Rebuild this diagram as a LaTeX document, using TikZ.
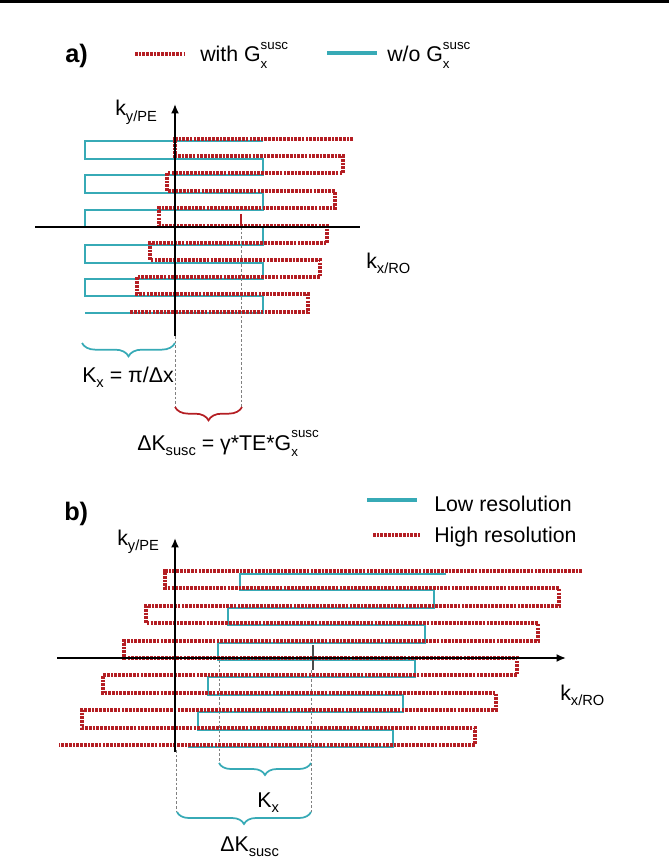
\documentclass[tikz,border=0pt]{standalone}
\usepackage{fontspec}
\setmainfont{Liberation Sans}
\usetikzlibrary{arrows.meta,decorations.pathreplacing}
\definecolor{mriteal}{RGB}{55,170,182}
\definecolor{mrired}{RGB}{180,30,35}
\newcommand{\lowidx}[1]{\raisebox{-0.45ex}{\fontsize{11}{11}\selectfont #1}}
\newcommand{\gsusc}{G\rlap{\raisebox{-0.55ex}{\fontsize{10}{10}\selectfont x}}\raisebox{1.15ex}{\fontsize{10}{10}\selectfont susc}}
\tikzset{
  trajcyan/.style={
    draw=mriteal,
    line width=1.6pt
  },
  trajred/.style={
    draw=mrired,
    line width=2.6pt,
    dash pattern=on 2pt off 0.8pt
  },
  axisline/.style={
    line width=1.5pt,
    black
  },
  axisarrow/.style={
    axisline,
    -{Latex[length=7pt,width=6pt]}
  },
  guide/.style={
    gray,
    line width=0.5pt,
    dash pattern=on 2pt off 1.5pt
  },
  bracecyan/.style={
    draw=mriteal,
    line width=1.3pt,
    decorate,
    decoration={brace, mirror, amplitude=#1}
  },
  bracered/.style={
    draw=mrired,
    line width=1.3pt,
    decorate,
    decoration={brace, mirror, amplitude=#1}
  },
  lbl/.style={
    font=\fontsize{16}{19}\selectfont,
    inner sep=0pt,
    anchor=base west
  },
  tag/.style={
    lbl,
    font=\fontsize{19}{22}\selectfont\bfseries
  }
}

\begin{document}
\begin{tikzpicture}[x=0.75pt, y=-0.75pt]
\useasboundingbox (0,0) rectangle (669,859);
\fill[black] (0,0) rectangle (669,3);

% part a
\node[tag] (taga) at (65,63) {a)};
\draw[trajred, line width=3pt] (135,54) -- (185,54);
\node[lbl] (witha) at (200,62) {with \gsusc};
\draw[trajcyan, line width=2.4pt] (327,53) -- (377,53);
\node[lbl] (woa) at (387,62) {w/o \gsusc};

\draw[guide] (175,336) -- (175,407);
\draw[guide] (241,227) -- (241,407);

\draw[trajcyan] (263,141) -- (85,141) -- (85,159) -- (263,159) -- (263,175) -- (85,175)
  -- (85,193) -- (263,193) -- (263,210) -- (85,210) -- (85,227) -- (263,227) -- (263,245)
  -- (85,245) -- (85,263) -- (263,263) -- (263,279) -- (85,279) -- (85,296) -- (263,296)
  -- (263,313) -- (85,313);
\draw[trajred] (353,139) -- (175,139) -- (175,156) -- (343,156) -- (343,173) -- (167,173)
  -- (167,191) -- (335,191) -- (335,208) -- (159,208) -- (159,226) -- (327,226) -- (327,243)
  -- (150,243) -- (150,260) -- (320,260) -- (320,277) -- (137,277) -- (137,294) -- (308,294)
  -- (308,312) -- (130,312);
\draw[mrired, line width=1pt] (241,214) -- (241,227);

\draw[axisline] (35,227) -- (360,227);
\draw[axisarrow] (175,336) -- (175,104);
\node[lbl] (kya) at (115,116) {k\lowidx{y/PE}};
\node[lbl] (kxa) at (366,268) {k\lowidx{x/RO}};

\draw[bracecyan=10pt] (82,343) -- (175,343);
\node[lbl] (kxdef) at (82,382) {K\lowidx{x} = π/Δx};
\draw[bracered=10pt] (175,407) -- (242,407);
\node[lbl] (dkdef) at (137,450) {ΔK\lowidx{susc} = γ*TE*\gsusc};

% part b
\node[tag] (tagb) at (64,520) {b)};
\draw[trajcyan, line width=2.4pt] (367,500) -- (417,500);
\node[lbl] (lowres) at (434,511) {Low resolution};
\draw[trajred, line width=3pt] (373,535) -- (421,535);
\node[lbl] (highres) at (434,542) {High resolution};

\draw[guide] (176,750) -- (176,812);
\draw[guide] (219,660) -- (219,763);
\draw[guide] (311,670) -- (311,812);

\draw[trajcyan] (446,574) -- (240,574) -- (240,590) -- (434,590) -- (434,608) -- (228,608)
  -- (228,625) -- (425,625) -- (425,643) -- (218,643) -- (218,660) -- (415,660) -- (415,677)
  -- (208,677) -- (208,695) -- (403,695) -- (403,712) -- (198,712) -- (198,730) -- (393,730)
  -- (393,747) -- (188,747);
\draw[trajred] (582,571) -- (165,571) -- (165,588) -- (559,588) -- (559,606) -- (146,606)
  -- (146,623) -- (538,623) -- (538,641) -- (124,641) -- (124,658) -- (517,658) -- (517,675)
  -- (103,675) -- (103,693) -- (496,693) -- (496,710) -- (82,710) -- (82,728) -- (475,728)
  -- (475,745) -- (59,745);
\draw[black!70, line width=1.2pt] (313,645) -- (313,670);

\draw[axisarrow] (57,658) -- (566,658);
\draw[axisarrow] (175,752) -- (175,538);
\node[lbl] (kyb) at (117,545) {k\lowidx{y/PE}};
\node[lbl] (kxb) at (560,700) {k\lowidx{x/RO}};

\draw[bracecyan=9pt] (219,763) -- (311,763);
\node[lbl] (kxb2) at (257,807) {K\lowidx{x}};
\draw[bracecyan=9pt] (177,812) -- (311,812);
\node[lbl] (dkb) at (220,851) {ΔK\lowidx{susc}};
\end{tikzpicture}
\end{document}
